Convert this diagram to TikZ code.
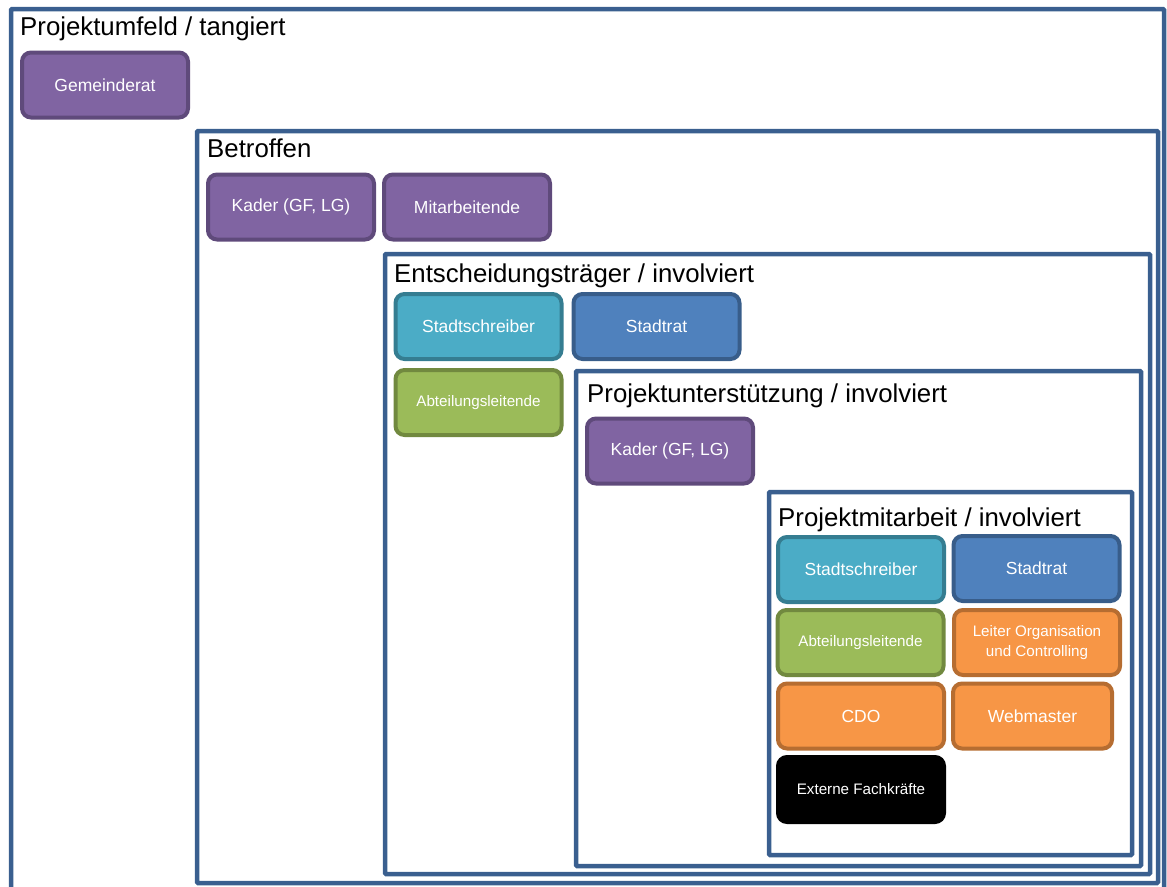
\documentclass[tikz,border=0pt]{standalone}
\usepackage{fontspec}
\setmainfont{Liberation Sans}
\usepackage{xcolor}
\usepackage{tikz}
\definecolor{frame}{HTML}{3A5F8F}
\definecolor{purpfill}{HTML}{8064A2}
\definecolor{purpline}{HTML}{5F4A7B}
\definecolor{cyanfill}{HTML}{4BACC6}
\definecolor{cyanline}{HTML}{357D91}
\definecolor{bluefill}{HTML}{4F81BD}
\definecolor{blueline}{HTML}{385D8A}
\definecolor{greenfill}{HTML}{9BBB59}
\definecolor{greenline}{HTML}{71893F}
\definecolor{orangefill}{HTML}{F79646}
\definecolor{orangeline}{HTML}{B66D31}
\tikzset{
  frame/.style={draw=frame, line width=4.5pt, rounded corners=1pt},
  title/.style={anchor=base west, inner sep=0pt, text=black, font=\fontsize{25.8}{30}\selectfont},
  role/.style={rounded corners=9pt, line width=4pt, text=white, align=center,
    minimum width=166pt, minimum height=65pt, inner sep=2pt, font=\fontsize{17.5}{21}\selectfont},
  small/.style={font=\fontsize{15.2}{20.5}\selectfont},
  purplebox/.style={role, fill=purpfill, draw=purpline},
  cyanbox/.style={role, fill=cyanfill, draw=cyanline},
  bluebox/.style={role, fill=bluefill, draw=blueline},
  greenbox/.style={role, small, fill=greenfill, draw=greenline},
  orangebox/.style={role, fill=orangefill, draw=orangeline},
  blackbox/.style={role, small, fill=black, draw=black},
}

\begin{document}
\begin{tikzpicture}[x=1pt, y=-1pt]
  \useasboundingbox (0,0) rectangle (1167,886);

  % nested frames
  \draw[frame] (11,9) rectangle (1164,900);
  \draw[frame] (197,131) rectangle (1158,883);
  \draw[frame] (385,254) rectangle (1150,874);
  \draw[frame] (576,371) rectangle (1141,866);
  \draw[frame] (769,492) rectangle (1132,855);

  \node[title] (t1) at (20,35) {Projektumfeld / tangiert};
  \node[title] (t2) at (207,157) {Betroffen};
  \node[title] (t3) at (394,282) {Entscheidungsträger / involviert};
  \node[title] (t4) at (587,402) {Projektunterstützung / involviert};
  \node[title] (t5) at (778,526) {Projektmitarbeit / involviert};

  % Projektumfeld
  \node[purplebox] (gemeinderat) at (105,85) {Gemeinderat};
  % Betroffen
  \node[purplebox] (kaderB) at (291,207) {Kader (GF, LG)};
  \node[purplebox] (mitarb) at (467,207) {Mitarbeitende};
  % Entscheidungstraeger
  \node[cyanbox] (schreiberE) at (478.5,326.5) {Stadtschreiber};
  \node[bluebox] (stadtratE) at (656.5,326.5) {Stadtrat};
  \node[greenbox] (abtE) at (478.5,402.5) {Abteilungsleitende};
  % Projektunterstuetzung
  \node[purplebox] (kaderP) at (670,451) {Kader (GF, LG)};
  % Projektmitarbeit
  \node[cyanbox] (schreiberM) at (861,569.5) {Stadtschreiber};
  \node[bluebox] (stadtratM) at (1036.5,568.5) {Stadtrat};
  \node[greenbox] (abtM) at (860.5,642.5) {Abteilungsleitende};
  \node[orangebox, small] (leiter) at (1037,642.5) {Leiter Organisation\\und Controlling};
  \node[orangebox] (cdo) at (861,716) {CDO};
  \node[orangebox, minimum width=159pt] (webmaster) at (1032.5,716) {Webmaster};
  \node[blackbox] (extern) at (861,789.5) {Externe Fachkräfte};
\end{tikzpicture}
\end{document}
